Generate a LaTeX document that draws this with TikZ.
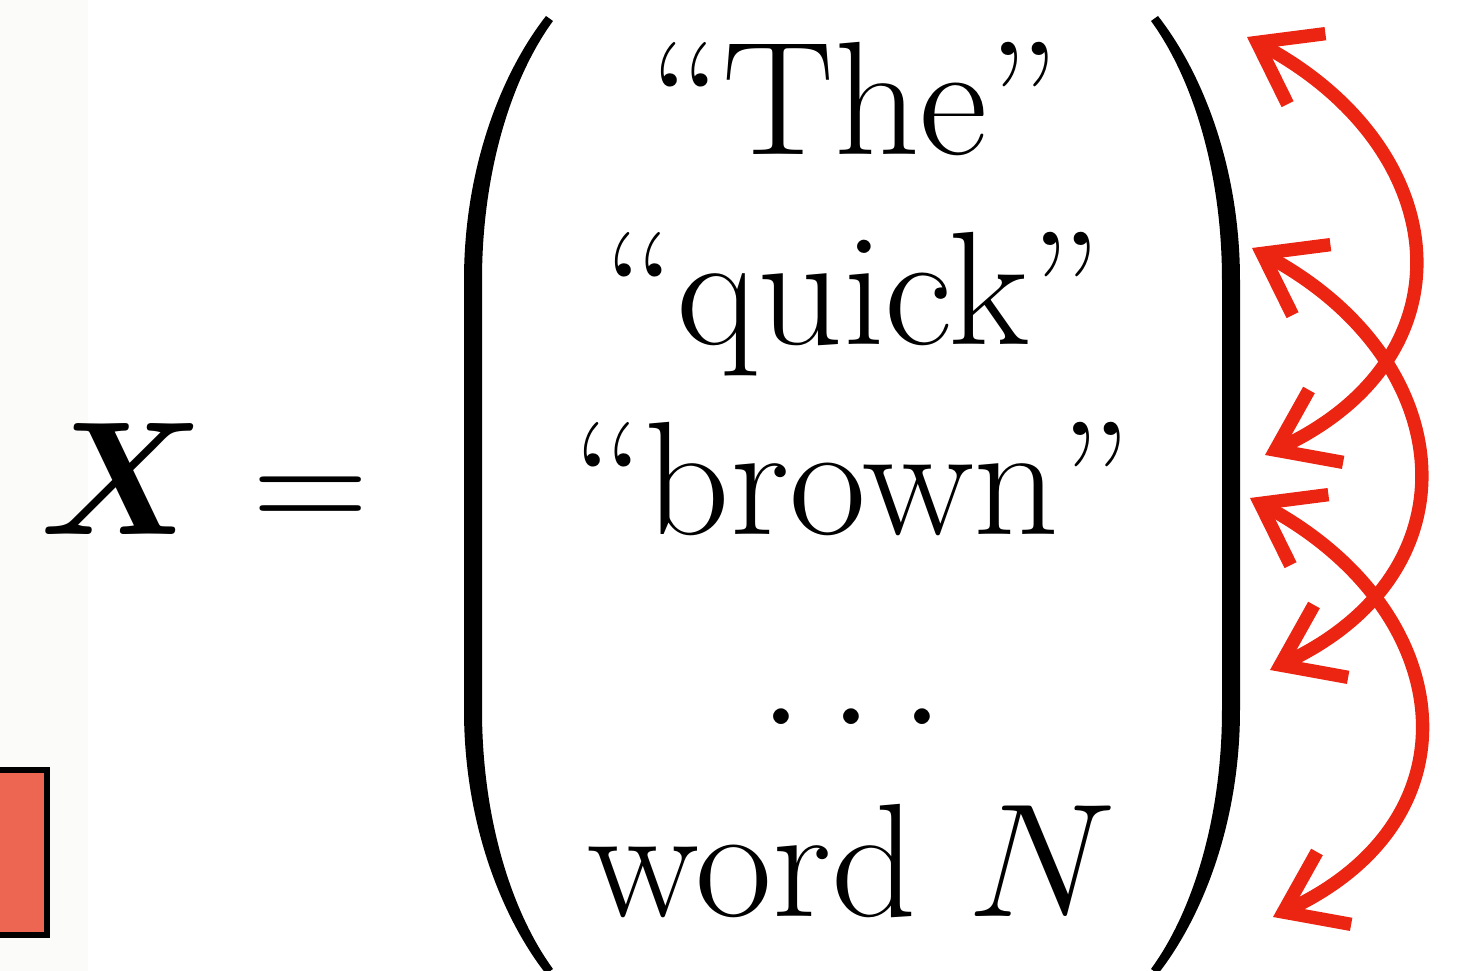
\documentclass[tikz,border=0pt]{standalone}
\usepackage{fix-cm}
\usepackage{amsmath}
\usepackage{graphicx}
\usetikzlibrary{arrows.meta}
\definecolor{penred}{RGB}{236,36,18}
\definecolor{boxred}{RGB}{236,102,82}
\definecolor{paper}{RGB}{251,251,249}
\newcommand{\wide}[1]{\scalebox{1.035}[1]{#1}}

\begin{document}
\begin{tikzpicture}[x=0.01cm, y=-0.01cm,
    every node/.style={font=\fontsize{46}{55}\selectfont, inner sep=0pt},
    word/.style={anchor=base},
    swap/.style={draw=penred, line width=3.8pt, line cap=round, line join=round,
      {Straight Barb[length=5.6mm, width=8mm]}-{Straight Barb[length=5.6mm, width=8mm]}},
  ]
  \clip (0,0) rectangle (1459,971);
  % strip of the slide on the left
  \fill[paper] (0,0) rectangle (88,971);
  \draw[fill=boxred, line width=1.5pt] (-20,770) rectangle (47,935);
  % X =
  \node[word] (xvar) at (122,535) {$\boldsymbol{X}$};
  \node[word] (eq)   at (311,535) {$=$};
  % entries of the vector
  \node[word] (the)   at (855,155) {\wide{“The”}};
  \node[word] (quick) at (853,345) {\wide{“quick”}};
  \node[word] (brown) at (852,535) {\wide{“brown”}};
  \node[word] (dots)  at (852,725) {$\ldots$};
  \node[word] (last)  at (852,917) {\wide{word $N$}};
  % parentheses (right one mirrored about x = 852)
  \foreach \m/\s in {0/1, 1704/-1}
    \fill[shift={(\m,0)}, xscale=\s]
      (546,16) .. controls (500,75) and (464,170) .. (464,280) -- (464,710)
      .. controls (464,820) and (500,915) .. (546,974)
      -- (553,969) .. controls (510,910) and (482,815) .. (482,710) -- (482,280)
      .. controls (482,175) and (510,80) .. (553,21) -- cycle;
  % ends of the swaps, right of the bracket
  \coordinate (a1) at (1247,37);  \coordinate (a2) at (1265,455);
  \coordinate (b1) at (1252,248); \coordinate (b2) at (1270,670);
  \coordinate (c1) at (1250,498); \coordinate (c2) at (1273,917);
  \draw[swap] (a1) .. controls +(205,110) and +(212,-100) .. (a2);
  \draw[swap] (b1) .. controls +(205,110) and +(212,-100) .. (b2);
  \draw[swap] (c1) .. controls +(205,110) and +(212,-100) .. (c2);
\end{tikzpicture}
\end{document}
